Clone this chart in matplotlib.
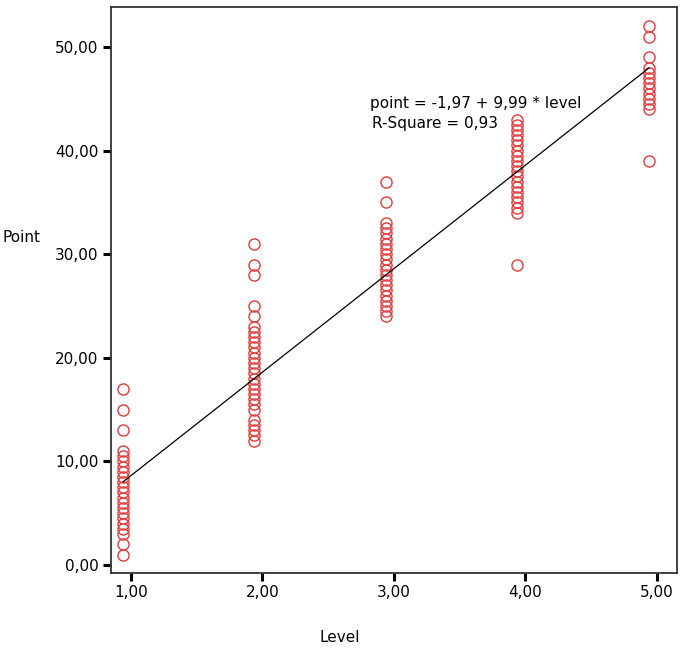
#! /usr/bin/env python
# Scatter of points by level with the linear fit (SPSS style)

import matplotlib
matplotlib.use("Agg")
import matplotlib.pyplot as plt
import matplotlib.transforms as mtransforms

# Donnees
#------------------------------------------------------------------
levels = [1.0, 2.0, 3.0, 4.0, 5.0]
points_l1 = [1, 2, 3, 3.5, 4, 4.5, 5, 5.5, 6, 6.5, 7, 7.5, 8, 8.5, 9, 9.5,
             10, 10.5, 11, 13, 15, 17]
points_l2 = [12, 12.5, 13, 13.5, 14, 15, 15.5, 16, 16.5, 17, 17.5, 18, 18.5,
             19, 19.5, 20, 20.5, 21, 21.5, 22, 22.5, 23, 24, 25, 28, 29, 31]
points_l3 = [24, 24.5, 25, 25.5, 26, 26.5, 27, 27.5, 28, 28.5, 29, 29.5, 30,
             30.5, 31, 31.5, 32, 32.5, 33, 35, 37]
points_l4 = [29, 34, 34.5, 35, 35.5, 36, 36.5, 37, 37.5, 38, 38.5, 39, 39.5,
             40, 40.5, 41, 41.5, 42, 42.5, 43]
points_l5 = [39, 44, 44.5, 45, 45.5, 46, 46.5, 47, 47.5, 48, 49, 51, 52]
intercept = -1.97
slope = 9.99
r_square = "0,93"
yticks = [0, 10, 20, 30, 40, 50]
ytick_labels = ["0,00", "10,00", "20,00", "30,00", "40,00", "50,00"]
xtick_labels = ["1,00", "2,00", "3,00", "4,00", "5,00"]
#------------------------------------------------------------------

fig = plt.figure(figsize=(6.85, 6.54), dpi=100)
ax = fig.add_axes([0.162, 0.1239, 0.8263, 0.8654])

# les marques sont legerement decalees a gauche des graduations dans l'original
shift = mtransforms.offset_copy(ax.transData, fig=fig, x=-8, y=0, units="dots")

groups = [points_l1, points_l2, points_l3, points_l4, points_l5]
for lev, pts in zip(levels, groups):
    ax.plot([lev] * len(pts), pts, linestyle="none", marker="o",
            markersize=8, markerfacecolor="none", markeredgecolor="#e03c3c",
            markeredgewidth=1.0, transform=shift, zorder=3)

xfit = [levels[0], levels[-1]]
yfit = [intercept + slope * v for v in xfit]
ax.plot(xfit, yfit, color="black", linewidth=0.9, transform=shift, zorder=4)

ax.text(2.817, 44.5, "point = -1,97 + 9,99 * level", fontsize=11,
        va="center", ha="left", zorder=2)
ax.text(2.83, 42.6, "R-Square = " + r_square, fontsize=11,
        va="center", ha="left", zorder=2)

ax.set_xlim(0.848, 5.152)
ax.set_ylim(-0.77, 53.86)
ax.set_xticks(levels)
ax.set_xticklabels(xtick_labels)
ax.set_yticks(yticks)
ax.set_yticklabels(ytick_labels)
ax.tick_params(direction="out", length=6, width=2.2, labelsize=11,
               color="black", pad=3)
for s in ax.spines.values():
    s.set_color("#333333")
    s.set_linewidth(1.3)

fig.text(2 / 685, 1 - 238 / 654, "Point", fontsize=11, va="center", ha="left")
fig.text(340 / 685, 1 - 638 / 654, "Level", fontsize=11, va="center", ha="center")

fig.savefig("out.png", dpi=100)
